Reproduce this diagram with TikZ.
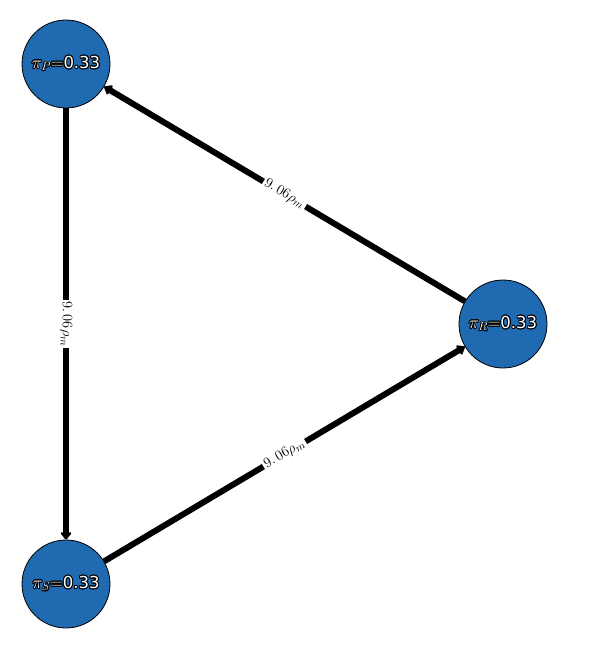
\documentclass[tikz,border=0pt]{standalone}
\usepackage{fontspec}
\setmainfont{DejaVu Sans}
\usepackage{contour}
\usetikzlibrary{arrows.meta}
\definecolor{nodeblue}{RGB}{31,106,177}
\contourlength{0.9pt}
\newcommand{\halotext}[1]{{\color{white}\contour{black}{#1}}}
\begin{document}
\begin{tikzpicture}[x=1pt,y=-1pt,
  state/.style={circle,draw=black,line width=0.8pt,fill=nodeblue,minimum size=88pt,inner sep=0pt,font=\fontsize{16.5}{18}\selectfont},
  trans/.style={line width=6pt,-{Triangle[length=8pt,width=12pt,round]}},
  elabel/.style={fill=white,inner sep=2pt,font=\fontsize{15}{17}\selectfont,sloped,midway}]
\useasboundingbox (0,0) rectangle (598,669);
\node[state] (P) at (66,64) {\halotext{$\pi_P{=}$0.33}};
\node[state] (R) at (503,324) {\halotext{$\pi_R{=}$0.33}};
\node[state] (S) at (66,584) {\halotext{$\pi_S{=}$0.33}};
\draw[trans] (P) -- node[elabel] {$9.\,06\rho_m$} (S);
\draw[trans] (S) -- node[elabel] {$9.\,06\rho_m$} (R);
\draw[trans] (R) -- node[elabel] {$9.\,06\rho_m$} (P);
\end{tikzpicture}
\end{document}
